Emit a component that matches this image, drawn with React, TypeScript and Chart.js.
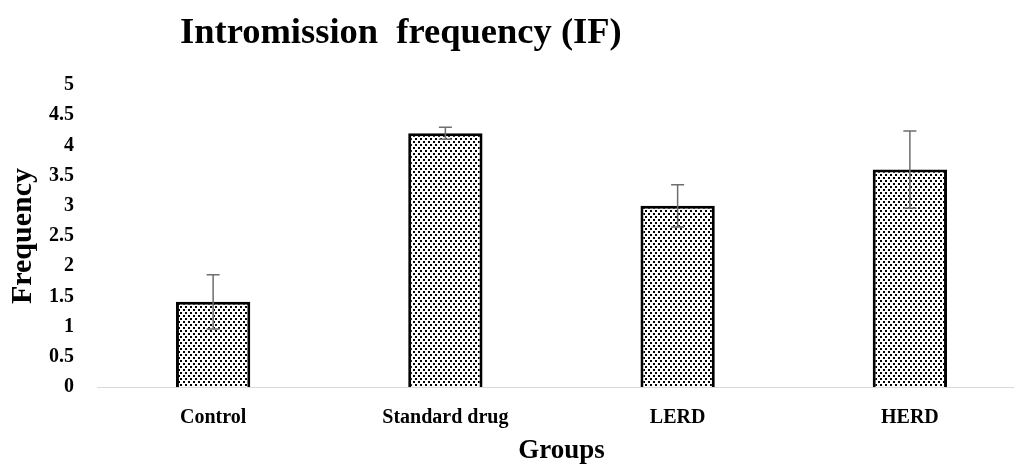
import React, { useEffect, useRef } from "react";
import { Chart, registerables } from "chart.js";

Chart.register(...registerables);

const categories = ["Control", "Standard drug", "LERD", "HERD"];
const values = [1.41, 4.2, 3.0, 3.6];
const errors = [0.45, 0.1, 0.35, 0.64];
const yTicks = [0, 0.5, 1, 1.5, 2, 2.5, 3, 3.5, 4, 4.5, 5];
const titleText = "Intromission  frequency (IF)";
const xTitle = "Groups";
const yTitle = "Frequency";

const FONT = '"Liberation Serif", "Times New Roman", serif';

function makePattern(): CanvasPattern | string {
  const tile = document.createElement("canvas");
  tile.width = 5;
  tile.height = 6;
  const c = tile.getContext("2d");
  if (!c) return "#888";
  c.fillStyle = "#ffffff";
  c.fillRect(0, 0, 5, 6);
  c.fillStyle = "#000000";
  c.fillRect(0, 0, 2, 2);
  c.fillRect(3, 3, 2, 2);
  const p = c.createPattern(tile, "repeat");
  return p || "#888";
}

const errorBarPlugin = {
  id: "errorBars",
  afterDatasetsDraw(chart: any) {
    const meta = chart.getDatasetMeta(0);
    const yScale = chart.scales.y;
    const ctx = chart.ctx;
    ctx.save();
    ctx.strokeStyle = "#6e6e6e";
    ctx.lineWidth = 1.5;
    meta.data.forEach((bar: any, i: number) => {
      const x = bar.x;
      const yHi = yScale.getPixelForValue(values[i] + errors[i]);
      const yLo = yScale.getPixelForValue(values[i] - errors[i]);
      const cap = 6.5;
      ctx.beginPath();
      ctx.moveTo(x, yHi);
      ctx.lineTo(x, yLo);
      ctx.moveTo(x - cap, yHi);
      ctx.lineTo(x + cap, yHi);
      ctx.moveTo(x - cap, yLo);
      ctx.lineTo(x + cap, yLo);
      ctx.stroke();
    });
    ctx.restore();
  },
};

const titlePlugin = {
  id: "customTitle",
  afterDraw(chart: any) {
    const ctx = chart.ctx;
    ctx.save();
    ctx.font = `bold 36.5px ${FONT}`;
    ctx.fillStyle = "#000";
    ctx.textAlign = "left";
    ctx.textBaseline = "alphabetic";
    ctx.fillText(titleText, 180, 43);
    ctx.restore();
  },
};

export default function App() {
  const ref = useRef<HTMLCanvasElement | null>(null);

  useEffect(() => {
    if (!ref.current) return;
    const chart = new Chart(ref.current, {
      type: "bar",
      data: {
        labels: categories,
        datasets: [
          {
            data: values,
            backgroundColor: makePattern() as any,
            borderColor: "#000000",
            borderWidth: 3,
            barPercentage: 0.32,
            categoryPercentage: 1,
          },
        ],
      },
      options: {
        responsive: false,
        animation: false,
        layout: { padding: { top: 85, left: 0, right: 0, bottom: 0 } },
        plugins: {
          legend: { display: false },
          title: { display: false },
          tooltip: { enabled: false },
        },
        scales: {
          x: {
            grid: { display: false, drawTicks: false },
            border: { display: true, color: "#d9d9d9", width: 1 },
            ticks: {
              padding: 19,
              color: "#000",
              font: { family: FONT, size: 20, weight: "bold", lineHeight: 1.2 },
            },
            title: {
              display: true,
              text: xTitle,
              color: "#000",
              font: { family: FONT, size: 27, weight: "bold", lineHeight: 1 },
              padding: { top: 9, bottom: 3 },
            },
            afterFit(scale: any) {
              scale.height = 81;
            },
          },
          y: {
            min: 0,
            max: 5,
            afterBuildTicks(scale: any) {
              scale.ticks = yTicks.map((v) => ({ value: v }));
            },
            grid: { display: false, drawTicks: false },
            border: { display: false },
            ticks: {
              padding: 23,
              color: "#000",
              font: { family: FONT, size: 20, weight: "bold" },
              callback: (v: any) => String(v),
            },
            title: {
              display: true,
              text: yTitle,
              color: "#000",
              font: { family: FONT, size: 30, weight: "bold", lineHeight: 1 },
              padding: { top: 8, bottom: 0 },
            },
            afterFit(scale: any) {
              scale.width = 97;
            },
          },
        },
      },
      plugins: [errorBarPlugin, titlePlugin],
    } as any);
    return () => chart.destroy();
  }, []);

  return (
    <div
      style={{
        position: "absolute",
        left: 0,
        top: 0,
        width: 1014,
        height: 468,
        overflow: "hidden",
        background: "#fff",
      }}
    >
      <canvas ref={ref} width={1026} height={468} style={{ display: "block" }} />
    </div>
  );
}
